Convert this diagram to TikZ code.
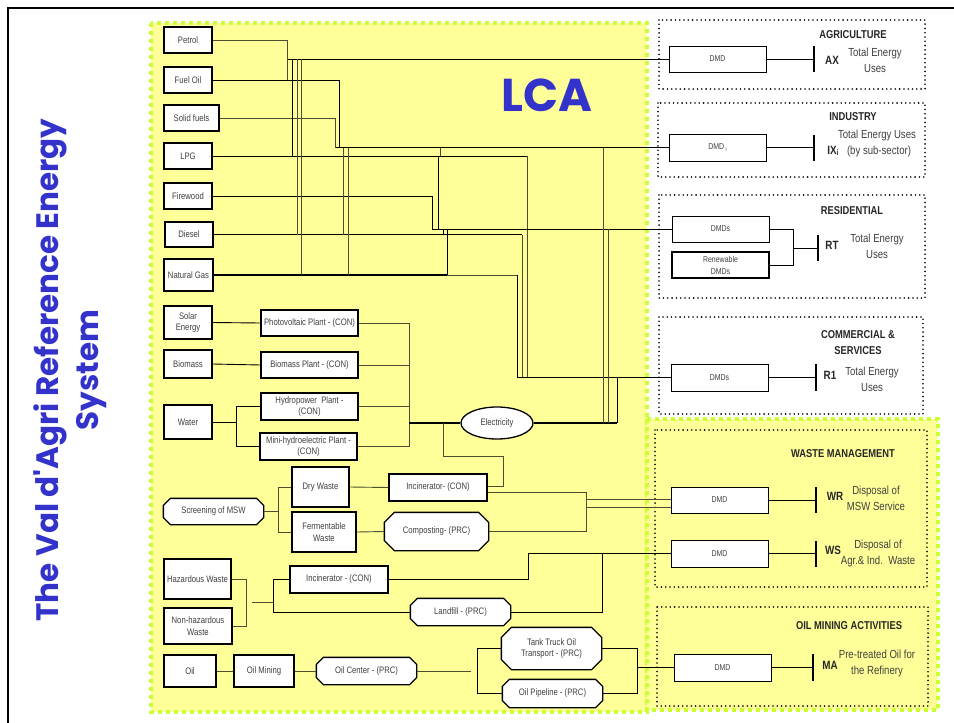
\documentclass[tikz,border=0pt]{standalone}
\usepackage{fontspec}
\setmainfont{Liberation Sans}[FakeStretch=0.82]
\newfontfamily\titlefont{Poppins}
\usetikzlibrary{shapes.geometric}
\pgfdeclarelayer{back}
\pgfsetlayers{back,main}
\definecolor{lcayellow}{HTML}{FFFF99}
\definecolor{limeg}{HTML}{CCFF33}
\definecolor{ttlblue}{HTML}{3333CC}
\definecolor{txt}{HTML}{404040}
\definecolor{wiregc}{HTML}{4D4D33}
\newcommand\chamfbox[2]{%
  \begin{pgfonlayer}{back}
  \draw[line width=1.3pt, fill=white] ([xshift=#2]#1.north west) -- ([xshift=-#2]#1.north east) -- ([yshift=-#2]#1.north east) -- ([yshift=#2]#1.south east) -- ([xshift=-#2]#1.south east) -- ([xshift=#2]#1.south west) -- ([yshift=#2]#1.south west) -- ([yshift=-#2]#1.north west) -- cycle;
  \end{pgfonlayer}}
\begin{document}
\begin{tikzpicture}[x=1pt,y=-1pt,
  box/.style={draw=black, fill=white, line width=1.3pt, inner sep=1pt, align=center, text=txt, font=\fontsize{9.4}{11.8}\selectfont},
  cbox/.style={box, draw=none, fill=none},
  dmd/.style={box, line width=0.9pt, minimum width=97pt, minimum height=26pt, font=\fontsize{8.5}{12}\selectfont},
  zone/.style={line width=1.8pt, dash pattern=on 0pt off 4.3pt, line cap=round},
  limeb/.style={draw=limeg, line width=3.5pt, dash pattern=on 4pt off 4pt, fill=lcayellow},
  wire/.style={line width=0.9pt, black},
  wireg/.style={line width=0.9pt, wiregc},
  heavy/.style={line width=1.3pt, black},
  bar/.style={line width=2.2pt, black},
  head/.style={font=\bfseries\fontsize{11.4}{16}\selectfont, text=black!85, align=center},
  code/.style={font=\bfseries\fontsize{12}{13}\selectfont, text=black!85},
  desc/.style={font=\fontsize{11.7}{16}\selectfont, text=txt, align=center},
]
\begin{pgfonlayer}{back}
\useasboundingbox (0,0) rectangle (954,723);
\fill[white] (0,0) rectangle (954,723);
% outer frame
\draw[line width=2pt] (8,723) -- (8,8) -- (954,8);
% LCA areas
\draw[limeb] (151,23) rectangle (647,712);
\draw[limeb] (647,419) rectangle (938,710);
% zones
\draw[zone, fill=white] (659,20) rectangle (925,89);
\draw[zone, fill=white] (658,103) rectangle (925,177);
\draw[zone, fill=white] (659,195) rectangle (925,298);
\draw[zone, fill=white] (659,317) rectangle (923,414);
\draw[zone] (655,430) rectangle (927,587);
\draw[zone] (657,607) rectangle (928,706);
\end{pgfonlayer}

% title and LCA
\node[rotate=90, text=ttlblue, font=\titlefont\bfseries\fontsize{31}{40}\selectfont, align=center] (title) at (70,370) {The Val d'Agri Reference Energy\\System};
\node[text=ttlblue, font=\titlefont\bfseries\fontsize{46}{46}\selectfont] (lca) at (547,95) {LCA};

% source boxes
\node[box, minimum width=48pt, minimum height=26pt] (petrol) at (188,40) {Petrol};
\node[box, minimum width=48pt, minimum height=26pt] (fueloil) at (188,80) {Fuel Oil};
\node[box, minimum width=55pt, minimum height=26pt] (solid) at (191.5,118) {Solid fuels};
\node[box, minimum width=48pt, minimum height=26pt] (lpg) at (188,156) {LPG};
\node[box, minimum width=48pt, minimum height=26pt] (firewood) at (188,196) {Firewood};
\node[box, minimum width=48pt, minimum height=25pt] (diesel) at (189,234.5) {Diesel};
\node[box, minimum width=49pt, minimum height=32pt] (natgas) at (188.5,275) {Natural Gas};
\node[box, minimum width=48pt, minimum height=33pt] (solar) at (188,322.5) {Solar\\Energy};
\node[box, minimum width=48pt, minimum height=28pt] (biomass) at (188,364) {Biomass};
\node[box, minimum width=48pt, minimum height=34pt] (water) at (188,422) {Water};
\node[box, minimum width=97pt, minimum height=26pt] (pv) at (309.5,323) {Photovoltaic Plant - (CON)};
\node[box, minimum width=97pt, minimum height=26pt] (bioplant) at (309.5,365) {Biomass Plant - (CON)};
\node[box, minimum width=97pt, minimum height=27pt] (hydro) at (309.5,406.5) {Hydropower\ \ Plant -\\(CON)};
\node[box, minimum width=97pt, minimum height=27pt] (minihydro) at (308.5,446.5) {Mini-hydroelectric Plant -\\(CON)};
\node[box, ellipse, minimum width=72pt, minimum height=32pt] (elec) at (497,423) {Electricity};

\node[box, minimum width=57pt, minimum height=40pt] (drywaste) at (320.5,487) {Dry Waste};
\node[box, minimum width=64pt, minimum height=40pt] (ferment) at (324,532) {Fermentable\\Waste};
\node[cbox, minimum width=99pt, minimum height=25pt] (screening) at (213.5,511.5) {Screening of MSW};
\chamfbox{screening}{7pt}
\node[box, minimum width=98pt, minimum height=27pt] (incin1) at (438,487.5) {Incinerator- (CON)};
\node[cbox, minimum width=103pt, minimum height=37pt] (compost) at (436.5,531.5) {Composting- (PRC)};
\chamfbox{compost}{10pt}
\node[box, minimum width=67pt, minimum height=40pt] (hazard) at (197.5,579) {Hazardous Waste};
\node[box, minimum width=68pt, minimum height=36pt] (nonhaz) at (198,626) {Non-hazardous\\Waste};
\node[box, minimum width=98pt, minimum height=27pt] (incin2) at (339,579.5) {Incinerator - (CON)};
\node[cbox, minimum width=99pt, minimum height=26pt] (landfill) at (460.5,612) {Landfill - (PRC)};
\chamfbox{landfill}{7pt}
\node[box, minimum width=52pt, minimum height=32pt] (oil) at (190,671) {Oil};
\node[box, minimum width=60pt, minimum height=32pt] (oilmining) at (264,671) {Oil Mining};
\node[cbox, minimum width=99pt, minimum height=26pt] (oilcenter) at (366.5,671) {Oil Center - (PRC)};
\chamfbox{oilcenter}{7pt}
\node[cbox, minimum width=99pt, minimum height=41pt] (tank) at (551.5,648.5) {Tank Truck Oil\\Transport - (PRC)};
\chamfbox{tank}{10pt}
\node[cbox, minimum width=99pt, minimum height=27pt] (pipeline) at (552.5,693.5) {Oil Pipeline - (PRC)};
\chamfbox{pipeline}{7pt}

% demand boxes
\node[dmd] (dmdAX) at (717.5,59) {DMD};
\node[dmd, minimum height=27pt] (dmdIX) at (717.5,147.5) {DMD\,\raisebox{-1.5pt}{\fontsize{6}{6}\selectfont i}};
\node[dmd] (dmdRT) at (720.5,229) {DMDs};
\node[dmd, line width=1.3pt] (dmdRen) at (720.5,265) {Renewable\\DMDs};
\node[dmd, minimum height=27pt] (dmdR1) at (719.5,377.5) {DMDs};
\node[dmd] (dmdWR) at (719.5,500) {DMD};
\node[dmd, minimum height=27pt] (dmdWS) at (719.5,553.5) {DMD};
\node[dmd, minimum height=27pt] (dmdMA) at (722.5,667.5) {DMD};

% sector labels
\node[head] (hAG) at (853,35) {AGRICULTURE};
\node[code] (cAX) at (832,60) {AX};
\node[desc] (dAX) at (875,60.5) {Total Energy\\Uses};
\node[head] (hIN) at (853,117) {INDUSTRY};
\node[desc] (dIX1) at (877,135) {Total Energy Uses};
\node[code] (cIX) at (833,151) {IX\raisebox{-1.5pt}{\fontsize{8}{8}\selectfont i}};
\node[desc] (dIX2) at (879,151) {(by sub-sector)};
\node[head] (hRE) at (852,211) {RESIDENTIAL};
\node[code] (cRT) at (832,245) {RT};
\node[desc] (dRT) at (877,246.5) {Total Energy\\Uses};
\node[head] (hCO) at (858,343) {COMMERCIAL \&\\SERVICES};
\node[code] (cR1) at (830,375) {R1};
\node[desc] (dR1) at (872,379) {Total Energy\\Uses};
\node[head] (hWA) at (843,454) {WASTE MANAGEMENT};
\node[code] (cWR) at (835,496) {WR};
\node[desc] (dWR) at (876,498) {Disposal of\\MSW Service};
\node[code] (cWS) at (833,550) {WS};
\node[desc] (dWS) at (878,553) {Disposal of\\Agr.\& Ind.\ \ Waste};
\node[head] (hOM) at (849,626) {OIL MINING ACTIVITIES};
\node[code] (cMA) at (830,665) {MA};
\node[desc] (dMA) at (877,663) {Pre-treated Oil for\\the Refinery};

% bars
\coordinate (bAX) at (814,59);   \draw[bar] (814,46) -- (814,72);
\coordinate (bIX) at (814,147.5); \draw[bar] (814,135) -- (814,161);
\coordinate (bRT) at (818,248);  \draw[bar] (818,235) -- (818,261);
\coordinate (bR1) at (816,377.5); \draw[bar] (816,364) -- (816,391);
\coordinate (bWR) at (816,500);  \draw[bar] (816,487) -- (816,513);
\coordinate (bWS) at (816,553.5); \draw[bar] (816,541) -- (816,567);
\coordinate (bMA) at (813,667.5); \draw[bar] (813,654) -- (813,681);
\draw[wire] (dmdAX.east) -- (bAX);
\draw[wire] (dmdIX.east) -- (bIX);
\draw[wire] (dmdRT.east) -| (793,265) -- (dmdRen.east);
\draw[wire] (793,248) -- (bRT);
\draw[wire] (dmdR1.east) -- (bR1);
\draw[wire] (dmdWR.east) -- (bWR);
\draw[wire] (dmdWS.east) -- (bWS);
\draw[wire] (dmdMA.east) -- (bMA);

% fuels network
\draw[wire] (287,59) -- (dmdAX.west);
\draw[wireg] (petrol.east) -| (287,80);
\draw[wire] (fueloil.east) -| (339,147.5);
\draw[wire] (335,147.5) -- (dmdIX.west);
\draw[wireg] (solid.east) -| (335,147.5);
\draw[wire] (lpg.east) -- (527,156);
\draw[wireg] (527,156) -- (527,377.5);
\draw[wire] (292,156) -- (292,59);
\draw[wireg] (440,147.5) -- (440,156);
\draw[wire] (438,156) -- (438,229);
\draw[wire] (firewood.east) -| (432,229);
\draw[wire] (432,229) -- (dmdRT.west);
\draw[wire] (diesel.east) -- (522,234.5);
\draw[wireg] (522,234.5) -- (522,377.5);
\draw[wireg] (297,234.5) -- (297,59);
\draw[wireg] (343,234.5) -- (343,147.5);
\draw[wire] (443,234.5) -- (443,229);
\draw[heavy] (natgas.east) -- (447,275);
\draw[wireg] (447,275) -- (517,275);
\draw[wire] (517,275) -- (517,377.5) -- (dmdR1.west);
\draw[wireg] (301,275) -- (301,59);
\draw[wireg] (348,275) -- (348,147.5);
\draw[wire] (447,275) -- (447,229);

% electricity
\coordinate (eb) at (409,423);
\draw[wire] (solar.east) -- (pv.west);
\draw[wire] (biomass.east) -- (bioplant.west);
\coordinate (wb) at (236,422);
\draw[wire] (water.east) -- (wb);
\draw[wire] (wb) |- (hydro.west);
\draw[wire] (wb) |- (minihydro.west);
\draw[wireg] (pv.east) -| (eb);
\draw[wireg] (bioplant.east) -| (eb);
\draw[wireg] (hydro.east) -| (eb);
\draw[wireg] (minihydro.east) -| (eb);
\draw[heavy] (eb) -- (elec.west);
\draw[heavy] (elec.east) -- (617,423);
\draw[wireg] (603,423) -- (603,147.5);
\draw[wireg] (608,423) -- (608,229);
\draw[wire] (617,423) -- (617,377.5);
\draw[wireg] ([yshift=1.5pt]incin1.east) -| (503,456) -| (443,423);

% waste
\coordinate (sb) at (278,511.5);
\draw[wireg] (screening.east) -- (sb);
\draw[wireg] (sb) |- (drywaste.west);
\draw[wireg] (sb) |- (ferment.west);
\draw[wireg] (drywaste.east) -- (incin1.west);
\draw[wireg] (ferment.east) -- (compost.west);
\draw[wireg] ([yshift=-4.5pt]incin1.east) -| (586,531.5) -- (compost.east);
\draw[wireg] (586,499) -- ([yshift=1pt]dmdWR.west);
\draw[wireg] (586,507) -- ([yshift=-7pt]dmdWR.west);
\draw[wireg] (hazard.east) -| (246,626) -- (nonhaz.east);
\coordinate (stubA) at (252,602);
\coordinate (stubB) at (273,602);
\draw[wireg] (stubA) -- (stubB);
\draw[wire] (incin2.west) -| (273,612) -- (landfill.west);
\draw[wire] (incin2.east) -| (528,553.5);
\draw[wire] (528,553.5) -- (dmdWS.west);
\draw[wire] (landfill.east) -| (602,553.5);

% oil
\draw[wireg] (oil.east) -- (oilmining.west);
\draw[wireg] (oilmining.east) -- (oilcenter.west);
\coordinate (ocEnd) at (471,671);
\draw[wireg] (oilcenter.east) -- (ocEnd);
\draw[wire] (tank.west) -| (477,693.5) -- (pipeline.west);
\draw[wire] (tank.east) -| (637,693.5) -- (pipeline.east);
\draw[wire] (637,667.5) -- (dmdMA.west);
\end{tikzpicture}
\end{document}
